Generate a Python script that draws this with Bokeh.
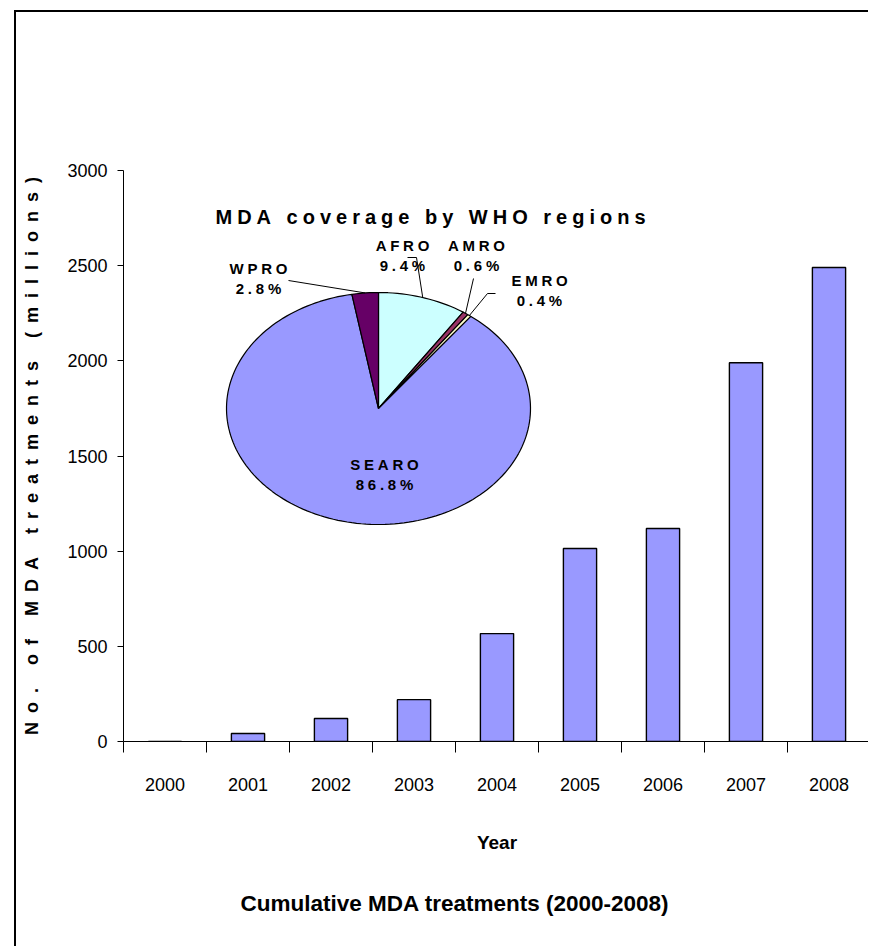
import numpy as np
from bokeh.plotting import figure
from bokeh.models import Range1d, FixedTicker, Title
from bokeh.core.properties import value
from bokeh.embed import file_html
from bokeh.resources import INLINE

# ---- data ----
years = ["2000", "2001", "2002", "2003", "2004", "2005", "2006", "2007", "2008"]
treatments = [0, 42, 121, 220, 567, 1014, 1119, 1990, 2490]  # millions, cumulative

regions = ["AFRO", "AMRO", "EMRO", "SEARO", "WPRO"]  # clockwise from 12 o'clock
shares = [9.4, 0.6, 0.4, 86.8, 2.8]                   # percent
region_colors = ["#CCFFFF", "#993366", "#FFFFCC", "#9999FF", "#660066"]

SANS = "Liberation Sans"


def spaced(s, sp):
    """Letter-spaced rendering of a text (as in the original figure)."""
    return sp.join(list(s))


# ---- geometry (page pixels) ----
FRAME_L, FRAME_R, FRAME_T, FRAME_B = 123, 870, 170, 741
CX, CY, RX, RY = 378, 408, 152, 116  # pie ellipse in page pixels

p = figure(width=854, height=936,
           x_range=Range1d(-0.5, len(years) - 0.5), y_range=Range1d(0, 3000),
           output_backend="svg", toolbar_location=None,
           min_border_left=107, min_border_right=0,
           min_border_top=158, min_border_bottom=207)
p.margin = (10, 0, 0, 14)
p.styles = {"border-left": "2px solid #000", "border-top": "2px solid #000"}
p.outline_line_color = None
p.xgrid.visible = False
p.ygrid.visible = False
p.background_fill_color = "white"
p.border_fill_color = "white"

# bars
idx = list(range(len(years)))
p.vbar(x=idx, top=treatments, width=0.4, fill_color="#9999FF",
       line_color="#000000", line_width=1.4)

# x axis: labels at centres, ticks at category boundaries
xa = p.xaxis[0]
xa.ticker = FixedTicker(ticks=idx, minor_ticks=[i - 0.5 for i in range(len(years) + 1)])
xa.major_label_overrides = {i: y for i, y in enumerate(years)}
xa.major_tick_out = 0
xa.major_tick_in = 0
xa.minor_tick_out = 11
xa.minor_tick_in = 0
xa.minor_tick_line_color = "#000000"
xa.axis_line_color = "#000000"
xa.major_label_standoff = 25
xa.major_label_text_font = SANS
xa.major_label_text_font_size = "18px"
xa.major_label_text_color = "#000000"
xa.axis_label = "Year"
xa.axis_label_text_font = SANS
xa.axis_label_text_font_size = "19px"
xa.axis_label_text_font_style = "bold"
xa.axis_label_text_color = "#000000"
xa.axis_label_standoff = 38

ya = p.yaxis[0]
ya.ticker = FixedTicker(ticks=[0, 500, 1000, 1500, 2000, 2500, 3000])
ya.minor_tick_line_color = None
ya.major_tick_out = 6
ya.major_tick_in = 0
ya.major_tick_line_color = "#000000"
ya.axis_line_color = "#000000"
ya.major_label_standoff = 10
ya.major_label_text_font = SANS
ya.major_label_text_font_size = "18px"
ya.major_label_text_color = "#000000"
ya.axis_label = spaced("No. of MDA treatments (millions)", "\u2002")
ya.axis_label_text_font = SANS
ya.axis_label_text_font_size = "18px"
ya.axis_label_text_font_style = "bold"
ya.axis_label_text_color = "#000000"
ya.axis_label_standoff = 22

t = Title(text="Cumulative MDA treatments (2000-2008)", align="left",
          text_font=SANS, text_font_size="22.5px", text_font_style="bold",
          text_color="#000000", offset=117, standoff=66)
p.add_layout(t, "below")

# ---- pie on its own ranges (unit ellipse -> RX, RY pixels) ----
p.extra_x_ranges["pie"] = Range1d((FRAME_L - CX) / RX, (FRAME_R - CX) / RX)
p.extra_y_ranges["pie"] = Range1d((CY - FRAME_B) / RY, (CY - FRAME_T) / RY)


def ux(xpx):
    return (xpx - CX) / RX


def uy(ypx):
    return (CY - ypx) / RY


cum = np.cumsum([0] + shares) / 100.0
xs, ys, mids = [], [], []
for i in range(len(shares)):
    a0, a1 = cum[i] * 2 * np.pi, cum[i + 1] * 2 * np.pi
    n = max(4, int(200 * (a1 - a0) / (2 * np.pi)) + 2)
    th = np.linspace(a0, a1, n)
    xs.append([0.0] + list(np.sin(th)) + [0.0])
    ys.append([0.0] + list(np.cos(th)) + [0.0])
    mids.append((a0 + a1) / 2)

p.patches(xs, ys, fill_color=region_colors, line_color="#000000", line_width=1.2,
          x_range_name="pie", y_range_name="pie")

# leader lines and labels
label_pos = {"WPRO": (258, 278), "AFRO": (402, 255), "AMRO": (476, 255),
             "EMRO": (539, 290), "SEARO": (384, 474)}
leader_start = {"WPRO": [(288, 280)], "AFRO": [(407, 257), (416, 257)],
                "AMRO": [(473, 278)], "EMRO": [(495, 293), (487, 293)]}

for r, sh, m in zip(regions, shares, mids):
    if r in leader_start:
        pts = leader_start[r]
        lx = [ux(a) for a, b in pts] + [np.sin(m)]
        ly = [uy(b) for a, b in pts] + [np.cos(m)]
        p.line(lx, ly, line_color="#000000", line_width=1,
               x_range_name="pie", y_range_name="pie")

lab_x = [ux(label_pos[r][0]) for r in regions]
lab_y = [uy(label_pos[r][1]) for r in regions]
lab_t = [spaced(r, "\u2005") + "\n" + spaced(f"{s:.1f}%", "\u2005")
         for r, s in zip(regions, shares)]
p.text(lab_x, lab_y, text=lab_t, text_font=value(SANS), text_font_size="15px",
       text_font_style="bold", text_align="center", text_baseline="middle",
       text_line_height=1.2, text_color="#000000",
       x_range_name="pie", y_range_name="pie")

p.text([ux(430)], [uy(216)], text=[spaced("MDA coverage by WHO regions", "\u2005")],
       text_font=value(SANS), text_font_size="20px", text_font_style="bold",
       text_align="center", text_baseline="middle", text_color="#000000",
       x_range_name="pie", y_range_name="pie")

open("out.html", "w").write(file_html(p, INLINE))
